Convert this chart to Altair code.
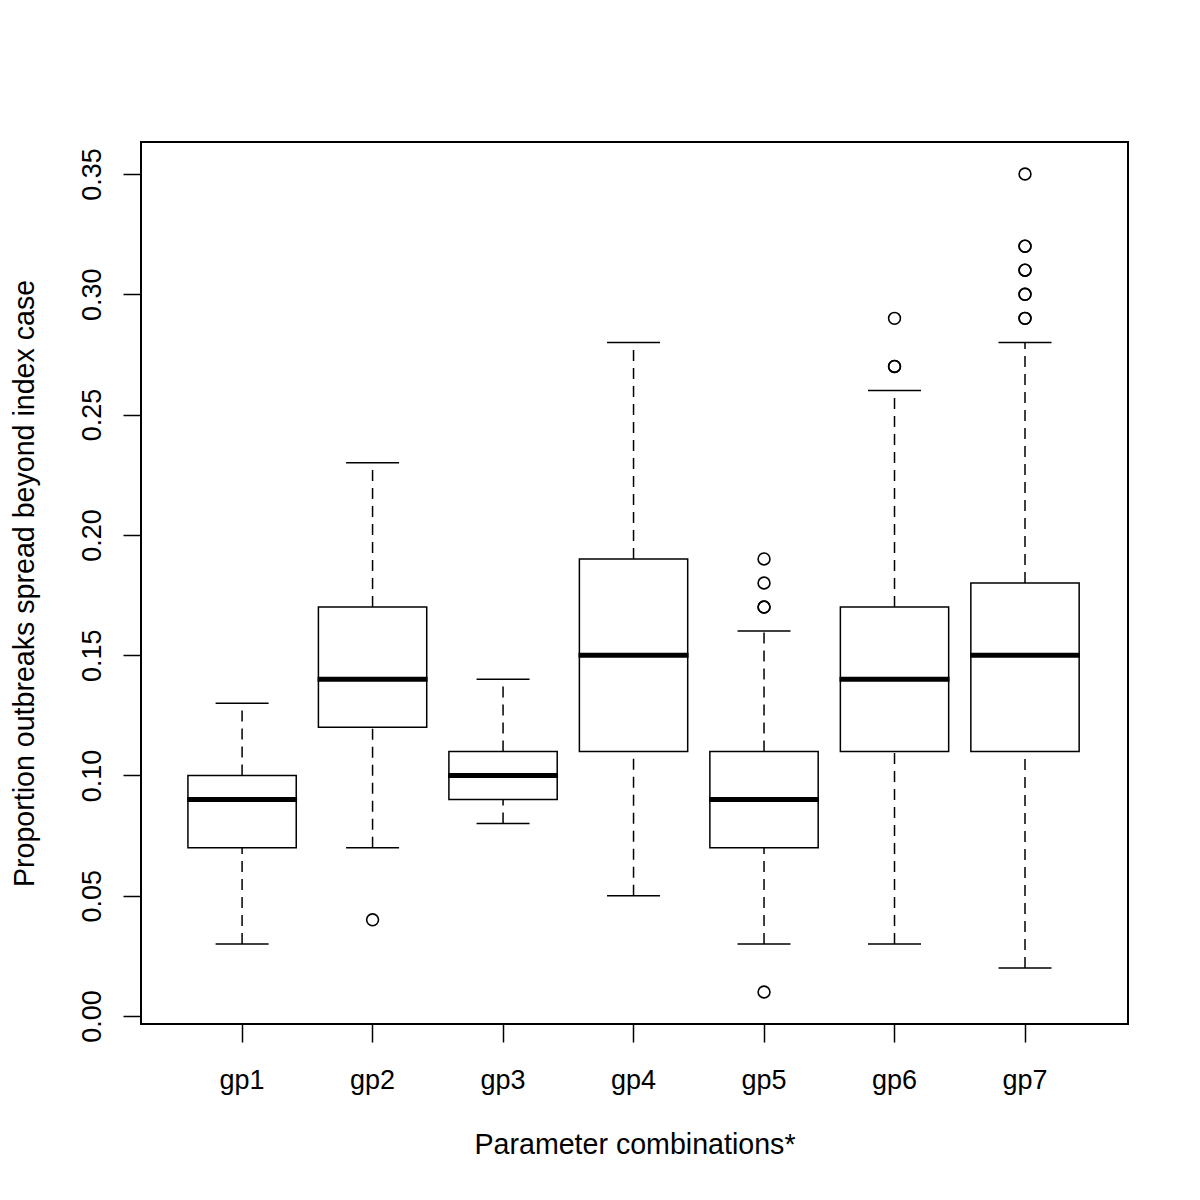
import altair as alt
import pandas as pd

groups = ["gp1", "gp2", "gp3", "gp4", "gp5", "gp6", "gp7"]
lower_whisker = [0.03, 0.07, 0.08, 0.05, 0.03, 0.03, 0.02]
q1 = [0.07, 0.12, 0.09, 0.11, 0.07, 0.11, 0.11]
median = [0.09, 0.14, 0.10, 0.15, 0.09, 0.14, 0.15]
q3 = [0.10, 0.17, 0.11, 0.19, 0.11, 0.17, 0.18]
upper_whisker = [0.13, 0.23, 0.14, 0.28, 0.16, 0.26, 0.28]

outlier_group = ["gp2", "gp5", "gp5", "gp5", "gp5", "gp5",
                 "gp6", "gp6", "gp6",
                 "gp7", "gp7", "gp7", "gp7", "gp7", "gp7", "gp7", "gp7", "gp7"]
outlier_value = [0.04, 0.01, 0.17, 0.17, 0.18, 0.19,
                 0.27, 0.27, 0.29,
                 0.29, 0.29, 0.30, 0.30, 0.31, 0.32, 0.32, 0.35, 0.31]

y_ticks = [0.00, 0.05, 0.10, 0.15, 0.20, 0.25, 0.30, 0.35]

box_df = pd.DataFrame({
    "group": groups, "lo": lower_whisker, "q1": q1, "med": median,
    "q3": q3, "hi": upper_whisker,
})
out_df = pd.DataFrame({"group": outlier_group, "value": outlier_value})

FONT = "Liberation Sans"

x_enc = alt.X(
    "group:N",
    sort=groups,
    scale=alt.Scale(type="band", domain=groups, paddingInner=0.17,
                    paddingOuter=0.367, align=0.49),
    axis=alt.Axis(
        title="Parameter combinations*",
        labelAngle=0, domain=False, grid=False,
        tickSize=18, tickWidth=1.5, tickColor="black",
        labelFontSize=27, labelFont=FONT, labelColor="black",
        labelBaseline="alphabetic", labelPadding=46,
        titleFontSize=28.6, titleFont=FONT, titleFontWeight="normal", titleColor="black",
        titleX=493.5, titleY=129, titleBaseline="alphabetic", titleAlign="center",
    ),
)
y_scale = alt.Scale(domain=[-0.0033, 0.3633], nice=False, zero=False)
y_axis = alt.Axis(
    title="Proportion outbreaks spread beyond index case",
    values=y_ticks, format=".2f", grid=False, domain=False,
    tickSize=18, tickWidth=1.5, tickColor="black",
    labelFontSize=27, labelFont=FONT, labelColor="black",
    labelAngle=270, labelAlign="center", labelBaseline="alphabetic", labelPadding=23,
    titleFontSize=28.6, titleFont=FONT, titleFontWeight="normal", titleColor="black",
    titleAngle=270, titleX=-108, titleY=441, titleAlign="center", titleBaseline="alphabetic",
)

base = alt.Chart(box_df)

upper = base.mark_rule(color="black", strokeWidth=1.5, strokeDash=[11, 7]).encode(
    x=x_enc, y=alt.Y("q3:Q", scale=y_scale, axis=y_axis), y2="hi:Q")
lower = base.mark_rule(color="black", strokeWidth=1.5, strokeDash=[11, 7]).encode(
    x=x_enc, y=alt.Y("lo:Q", scale=y_scale, axis=y_axis), y2="q1:Q")
cap_hi = base.mark_tick(color="black", size=53, thickness=1.5, opacity=1).encode(
    x=x_enc, y=alt.Y("hi:Q", scale=y_scale, axis=y_axis))
cap_lo = base.mark_tick(color="black", size=53, thickness=1.5, opacity=1).encode(
    x=x_enc, y=alt.Y("lo:Q", scale=y_scale, axis=y_axis))
box = base.mark_bar(fill="white", stroke="black", strokeWidth=1.5).encode(
    x=x_enc, y=alt.Y("q1:Q", scale=y_scale, axis=y_axis), y2="q3:Q")
med = base.mark_tick(color="black", size=110, thickness=5, opacity=1).encode(
    x=x_enc, y=alt.Y("med:Q", scale=y_scale, axis=y_axis))
outs = alt.Chart(out_df).mark_point(
    shape="circle", filled=False, color="black", size=140, strokeWidth=1.6, opacity=1
).encode(x=x_enc, y=alt.Y("value:Q", scale=y_scale, axis=y_axis))

chart = alt.layer(upper, lower, cap_hi, cap_lo, box, med, outs).properties(
    width=987, height=882,
    autosize=alt.AutoSizeParams(type="none"),
    padding={"left": 133, "top": 134, "right": 64, "bottom": 168},
    background="white",
).configure_view(stroke="black", strokeWidth=2)

chart.save("out.html", embed_options={"renderer": "svg", "actions": False})
